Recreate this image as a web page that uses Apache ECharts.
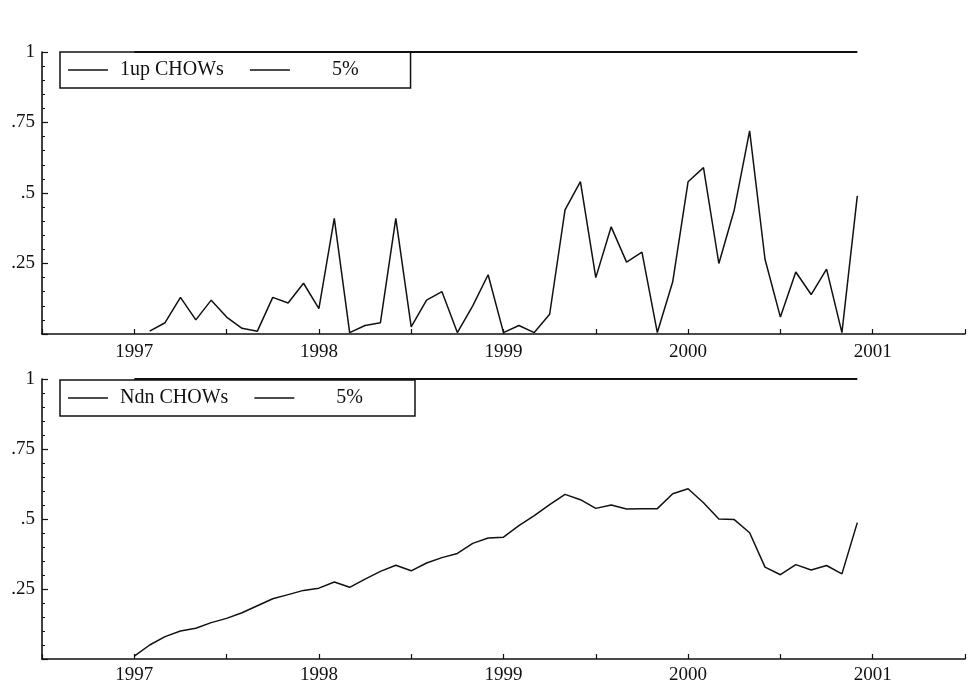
<!DOCTYPE html>
<html>
<head>
<meta charset="utf-8">
<script src="https://cdn.jsdelivr.net/npm/echarts@6/dist/echarts.min.js"></script>
<style>
html,body{margin:0;padding:0;background:#fff;}
#chart{width:968px;height:685px;}
</style>
</head>
<body>
<div id="chart"></div>
<script>
// Monthly observations, January 1997 to December 2000
const startYear = 1997;
const monthsCount = 48;
const yearTicks = [1997, 1998, 1999, 2000, 2001];
const yTickLabels = {'0.25': '.25', '0.5': '.5', '0.75': '.75', '1': '1'};

// Panel 1: 1-step-ahead (1up) Chow statistics, scaled by 5% critical value
const chow1up = [
  null, 0.01, 0.04, 0.13, 0.05, 0.12, 0.06, 0.02, 0.01, 0.13, 0.11, 0.18,
  0.09, 0.41, 0.005, 0.03, 0.04, 0.41, 0.025, 0.12, 0.15, 0.005, 0.10, 0.21,
  0.005, 0.03, 0.005, 0.07, 0.44, 0.54, 0.20, 0.38, 0.255, 0.29, 0.005, 0.185,
  0.54, 0.59, 0.25, 0.44, 0.72, 0.265, 0.06, 0.22, 0.14, 0.23, 0.005, 0.49
];
// Panel 2: break-point (Ndn) Chow statistics, scaled by 5% critical value
const chowNdn = [
  0.01, 0.05, 0.08, 0.10, 0.11, 0.13, 0.145, 0.165, 0.19, 0.215, 0.23, 0.245,
  0.253, 0.275, 0.256, 0.285, 0.313, 0.335, 0.315, 0.343, 0.362, 0.377, 0.413, 0.432,
  0.435, 0.476, 0.512, 0.551, 0.588, 0.569, 0.538, 0.55, 0.536, 0.537, 0.537, 0.59,
  0.608, 0.558, 0.50, 0.498, 0.451, 0.328, 0.301, 0.337, 0.318, 0.334, 0.304, 0.487
];
// 5% critical value line (scaled to 1)
const crit5 = new Array(monthsCount).fill(1);

const xOf = i => startYear + i / 12;
const pairs = arr => arr.map((v, i) => [xOf(i), v]);

const FONT = "'Liberation Serif', 'DejaVu Serif', serif";
const INK = '#111';

function makeX(gi, labelMargin) {
  return {
    type: 'value', gridIndex: gi, min: 1996.5, max: 2001.5, interval: 0.5,
    axisLine: {show: true, onZero: false, lineStyle: {color: INK, width: 1.6}},
    axisTick: {show: true, inside: true, length: 5, lineStyle: {color: INK, width: 1.2}},
    axisLabel: {
      show: true, margin: labelMargin, color: INK, fontFamily: FONT, fontSize: 19,
      formatter: v => (yearTicks.indexOf(Math.round(v * 2) / 2) >= 0 ? String(v) : '')
    },
    splitLine: {show: false}
  };
}
function makeY(gi) {
  return {
    type: 'value', gridIndex: gi, min: 0, max: 1, interval: 0.25,
    axisLine: {show: true, lineStyle: {color: INK, width: 1.6}},
    axisTick: {show: true, inside: true, length: 6, lineStyle: {color: INK, width: 1.2}},
    minorTick: {show: true, splitNumber: 5, length: 3, lineStyle: {color: INK, width: 1}},
    axisLabel: {
      show: true, margin: 7, color: INK, fontFamily: FONT, fontSize: 19,
      formatter: v => yTickLabels[String(v)] || ''
    },
    splitLine: {show: false}
  };
}
function makeLegend(top, names) {
  return {
    left: 60, top: top, orient: 'horizontal',
    data: names,
    icon: 'rect', itemWidth: 40, itemHeight: 1.5, itemGap: 26,
    borderColor: INK, borderWidth: 1.5, borderRadius: 0,
    padding: [8, 52, 8, 8],
    backgroundColor: 'rgba(255,255,255,0)',
    textStyle: {color: INK, fontFamily: FONT, fontSize: 20, padding: [0, 0, 0, 7]},
    formatter: n => (n === '5%' ? '\u00a0\u00a0\u00a0\u00a0\u00a0\u00a05%' : n),
    selectedMode: false
  };
}
function lineSeries(name, xi, data, width) {
  return {
    name: name, type: 'line', xAxisIndex: xi, yAxisIndex: xi,
    data: pairs(data), showSymbol: false, symbol: 'none',
    lineStyle: {color: INK, width: width}, itemStyle: {color: INK},
    connectNulls: false, animation: false, z: 3
  };
}

const chart = echarts.init(document.getElementById('chart'), null, {renderer: 'canvas'});
chart.setOption({
  backgroundColor: '#fff',
  animation: false,
  grid: [
    {left: 42, top: 52, width: 923, height: 282},
    {left: 42, top: 379, width: 923, height: 280}
  ],
  xAxis: [makeX(0, 9), makeX(1, 7)],
  yAxis: [makeY(0), makeY(1)],
  legend: [
    makeLegend(52, ['1up CHOWs', '5%']),
    makeLegend(380, ['Ndn CHOWs', '5%'])
  ],
  series: [
    lineSeries('1up CHOWs', 0, chow1up, 1.5),
    lineSeries('5%', 0, crit5, 1.8),
    lineSeries('Ndn CHOWs', 1, chowNdn, 1.5),
    lineSeries('5%', 1, crit5, 1.8)
  ]
});
</script>
</body>
</html>
